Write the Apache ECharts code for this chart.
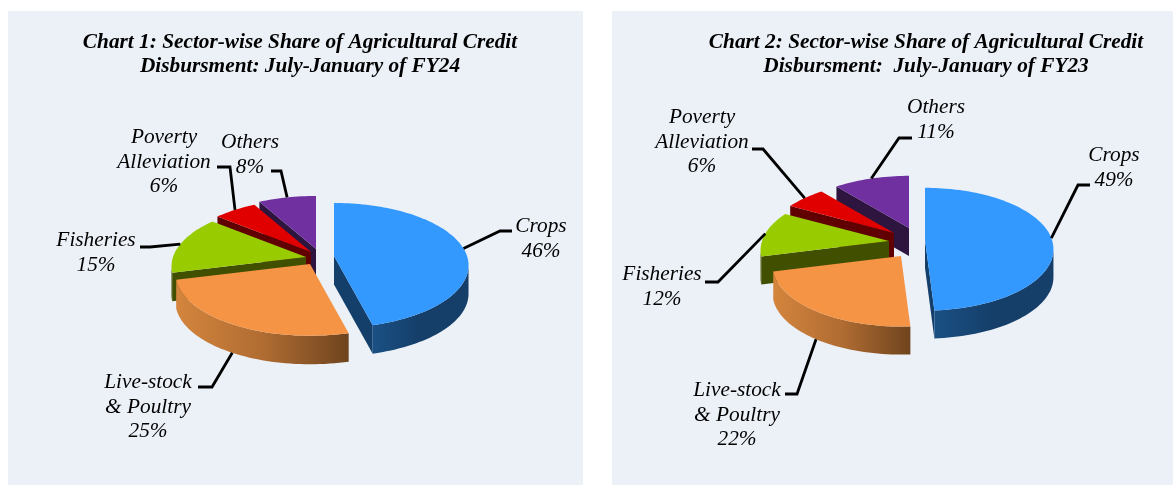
<!DOCTYPE html>
<html lang="en">
<head>
    <title>Sector-wise Share of Agricultural Credit</title>
    <meta charset="utf-8" />
    <script src="https://cdn.jsdelivr.net/npm/echarts@6/dist/echarts.min.js"></script>
    <style>
        html, body { margin: 0; padding: 0; background: #fff; }
        #main { width: 1173px; height: 485px; }
    </style>
</head>
<body>
<div id="main"></div>
<script type="text/javascript">
    // data
    const categories = ['Crops', 'Live-stock\n& Poultry', 'Fisheries', 'Poverty\nAlleviation', 'Others']
    const sharesFY24 = [46, 25, 15, 6, 8]
    const sharesFY23 = [49, 22, 12, 6, 11]
    const titleFY24 = 'Chart 1: Sector-wise Share of Agricultural Credit\nDisbursment: July-January of FY24'
    const titleFY23 = 'Chart 2: Sector-wise Share of Agricultural Credit\nDisbursment:  July-January of FY23'

    let panelColor = '#ECF1F8'
    let fontName = '"Liberation Serif", serif'
    let colorTop = ['#3399FF', '#F59445', '#99CC00', '#E00000', '#7030A0']
    let colorFace = ['#153F6B', '#8A5526', '#405000', '#600000', '#2D1540']
    let colorWall = [
        ['#1A5084', '#153E69', '#153E69'],
        ['#D4853D', '#B06C32', '#6F441E'],
        ['#405000', '#405000', '#405000'],
        ['#600000', '#600000', '#600000'],
        ['#2D1540', '#2D1540', '#2D1540'],
    ]

    // where each pie sits, slices pulled out by hand like the original
    let pie1 = {
        rx: 133, ry: 61, persp: 0.15, depth: 28.5,
        apex: [[334, 256], [310, 264], [306, 257], [311, 252], [316, 249]],
        elbow: [[500, 231], [212, 387], [150, 247], [230, 167], [281, 171]],
        tail: [[512, 231], [198, 387], [140, 247], [217, 167], [271, 171]],
        label: [[541, 226], [148, 382], [96, 240], [164, 137], [250, 142]],
    }
    let pie2 = {
        rx: 127, ry: 60, persp: 0.15, depth: 28,
        apex: [[925, 240], [901, 256], [889, 241], [894, 233], [909, 228]],
        elbow: [[1078, 185], [797, 394], [718, 282], [763, 149], [899, 138]],
        tail: [[1090, 185], [785, 394], [705, 282], [752, 149], [912, 138]],
        label: [[1114, 155], [737, 390], [662, 274], [702, 117], [936, 107]],
    }

    const project = (pie, apex, theta) => {
        let k = 1 / (1 + pie.persp * Math.cos(theta))
        return [apex[0] + pie.rx * Math.sin(theta) * k, apex[1] - pie.ry * Math.cos(theta) * k]
    }

    const down = (pt, pie) => [pt[0], pt[1] + pie.depth]

    const wallQuad = (a, b, pie, fill, z2) => ({
        type: 'polygon',
        z2: z2,
        shape: { points: [a, b, down(b, pie), down(a, pie)] },
        style: { fill: fill },
    })

    const makeRenderItem = (pie, shares) => {
        let total = shares.reduce((a, b) => a + b, 0)
        return function (params, api) {
            let i = params.dataIndex
            let before = 0
            for (let j = 0; j < i; j++) {
                before += shares[j]
            }
            let value = api.value(0)
            let start = before / total * Math.PI * 2
            let end = (before + value) / total * Math.PI * 2
            let apex = pie.apex[i]
            let rank = (5 - i) * 10

            let rim = []
            let steps = Math.ceil(value * 2)
            for (let s = 0; s <= steps; s++) {
                rim.push(project(pie, apex, start + (end - start) * s / steps))
            }

            let children = []
            // only the sides that face the viewer, they run leftwards going clockwise
            if (rim[0][0] < apex[0]) {
                children.push(wallQuad(apex, rim[0], pie, colorFace[i], rank + 1))
            }
            if (apex[0] < rim[rim.length - 1][0]) {
                children.push(wallQuad(rim[rim.length - 1], apex, pie, colorFace[i], rank + 1))
            }
            let front = rim.filter((pt, s) => (s < steps && rim[s + 1][0] < pt[0]) || (s > 0 && pt[0] < rim[s - 1][0]))
            if (front.length > 1) {
                let points = front.concat(front.slice().reverse().map(pt => down(pt, pie)))
                children.push({
                    type: 'polygon',
                    z2: rank + 2,
                    shape: { points: points },
                    style: {
                        fill: new echarts.graphic.LinearGradient(0, 0, 1, 0, [
                            { offset: 0, color: colorWall[i][0] },
                            { offset: 0.5, color: colorWall[i][1] },
                            { offset: 1, color: colorWall[i][2] },
                        ]),
                    },
                })
            }
            children.push({
                type: 'polygon',
                z2: rank + 3,
                shape: { points: [apex].concat(rim) },
                style: { fill: colorTop[i] },
            })

            // leader line and label
            let mid = (start + end) / 2
            let from = project(pie, apex, mid)
            if (Math.cos(mid) < -0.5) {
                from = down(from, pie)
            }
            children.push({
                type: 'polyline',
                z2: 100,
                shape: { points: [from, pie.elbow[i], pie.tail[i]] },
                style: { fill: null, stroke: '#000', lineWidth: 2.8 },
            })
            children.push({
                type: 'text',
                z2: 101,
                style: {
                    x: pie.label[i][0],
                    y: pie.label[i][1] - 11.5,
                    text: categories[i] + '\n' + value + '%',
                    align: 'center',
                    verticalAlign: 'top',
                    fontFamily: fontName,
                    fontStyle: 'italic',
                    fontSize: 21.3,
                    lineHeight: 24.4,
                    fill: '#000',
                },
            })
            return { type: 'group', children: children }
        }
    }

    let myChart = echarts.init(document.getElementById('main'), null, { renderer: 'canvas' })

    myChart.setOption({
        animation: false,
        backgroundColor: '#fff',
        graphic: [
            { type: 'rect', z: -1, shape: { x: 8, y: 11, width: 575, height: 474 }, style: { fill: panelColor } },
            { type: 'rect', z: -1, shape: { x: 612, y: 11, width: 561, height: 474 }, style: { fill: panelColor } },
        ],
        title: [
            {
                text: titleFY24, left: 295, top: 25, textAlign: 'center',
                textStyle: { fontFamily: fontName, fontStyle: 'italic', fontWeight: 'bold', fontSize: 21.3, lineHeight: 24, color: '#000' },
            },
            {
                text: titleFY23, left: 921, top: 25, textAlign: 'center',
                textStyle: { fontFamily: fontName, fontStyle: 'italic', fontWeight: 'bold', fontSize: 21.3, lineHeight: 24, color: '#000' },
            },
        ],
        series: [
            { type: 'custom', coordinateSystem: 'none', silent: true, renderItem: makeRenderItem(pie1, sharesFY24), data: sharesFY24.map(v => [v]) },
            { type: 'custom', coordinateSystem: 'none', silent: true, renderItem: makeRenderItem(pie2, sharesFY23), data: sharesFY23.map(v => [v]) },
        ],
    })
</script>
</body>
</html>
